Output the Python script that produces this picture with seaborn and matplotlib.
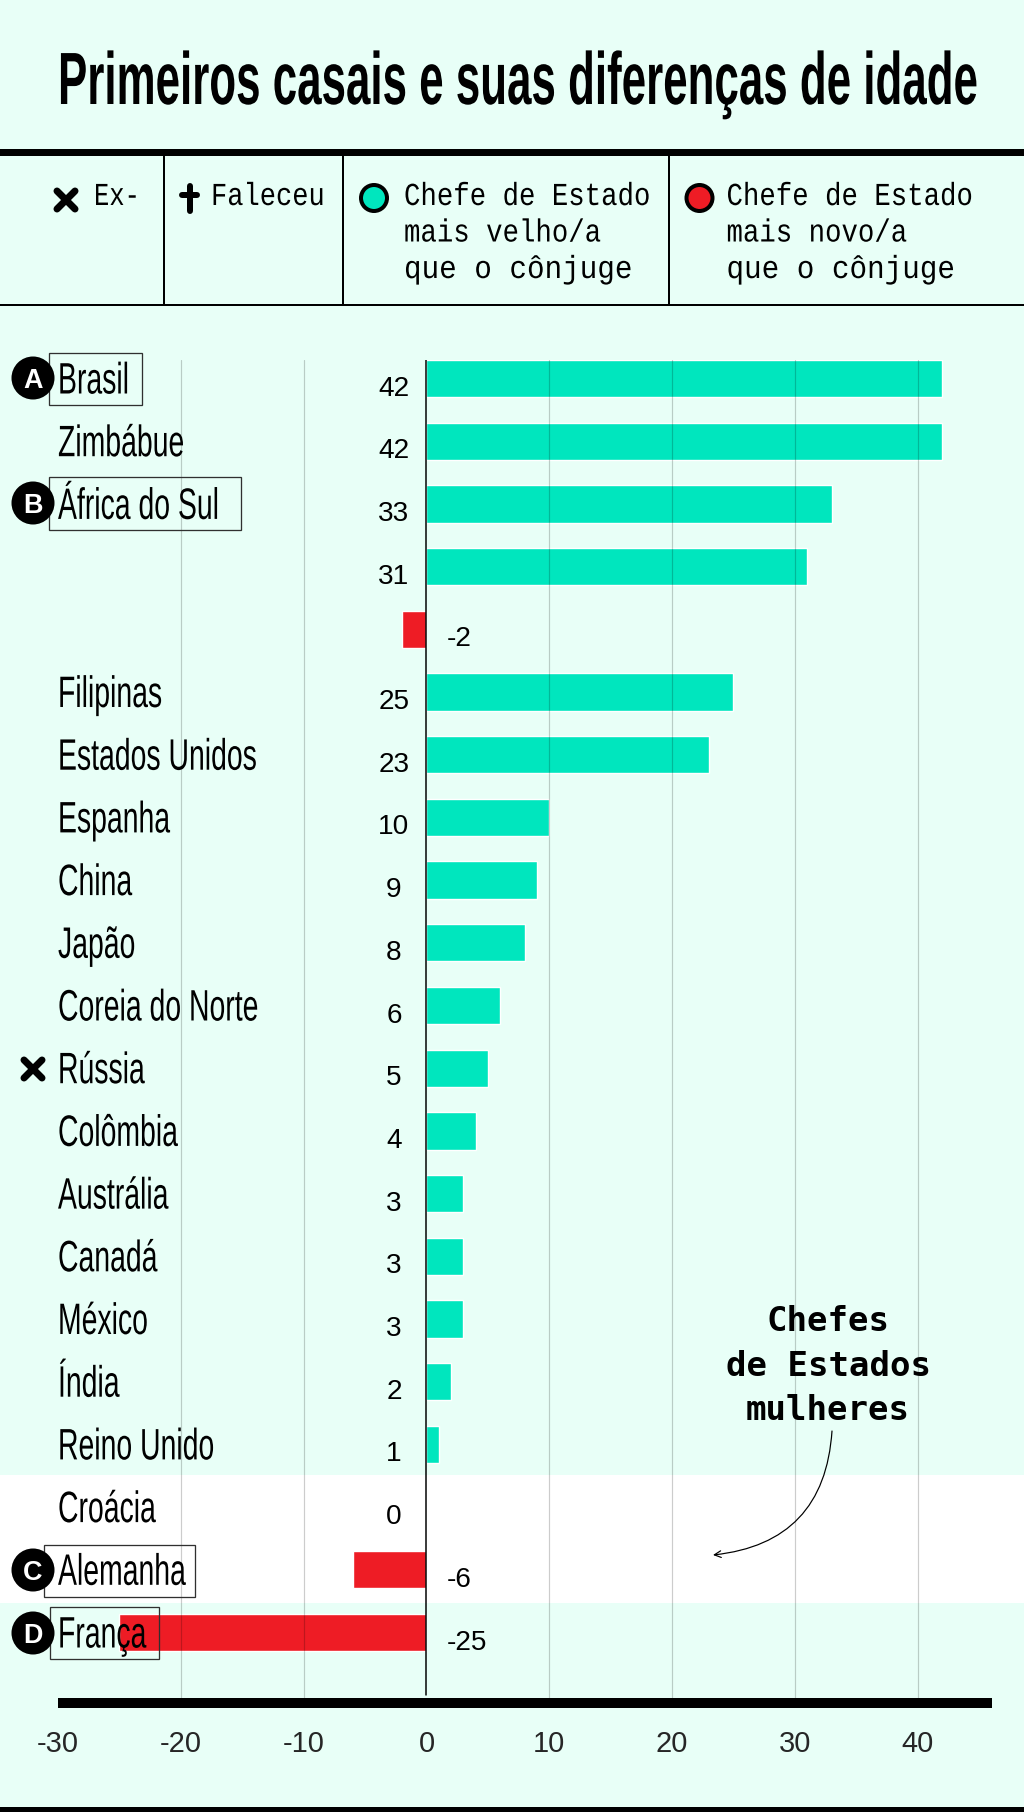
import numpy as np
import pandas as pd
import matplotlib
matplotlib.use("Agg")
import matplotlib.pyplot as plt
import seaborn as sns
from matplotlib.patches import Rectangle, Circle
from matplotlib.patheffects import AbstractPathEffect
from matplotlib.transforms import Affine2D, Bbox, offset_copy

title = "Primeiros casais e suas diferenças de idade"
countries = ["Brasil", "Zimbábue", "África do Sul", "", "", "Filipinas", "Estados Unidos",
             "Espanha", "China", "Japão", "Coreia do Norte", "Rússia", "Colômbia", "Austrália",
             "Canadá", "México", "Índia", "Reino Unido", "Croácia", "Alemanha", "França"]
age_gaps = [42, 42, 33, 31, -2, 25, 23, 10, 9, 8, 6, 5, 4, 3, 3, 3, 2, 1, 0, -6, -25]
x_ticks = [-30, -20, -10, 0, 10, 20, 30, 40]
grid_ticks = [-20, -10, 10, 20, 30, 40]
badge_letters = ["A", "B", "C", "D"]

BG = "#E8FFF7"
TEAL = "#00E6BE"
RED = "#EE1C25"
W, H = 1024, 1812

sns.set_theme(style="white")
plt.rcParams["font.family"] = ["Liberation Sans Narrow", "Liberation Sans", "DejaVu Sans"]

df = pd.DataFrame({"pos": np.arange(len(age_gaps)), "gap": age_gaps})
df["side"] = np.where(df["gap"] >= 0, "older", "younger")


class Squeeze(AbstractPathEffect):
    """Rescales the glyphs of a left-aligned text around its own origin."""
    def __init__(self, sx, sy=1.0):
        super().__init__()
        self.sx = sx
        self.sy = sy

    def draw_path(self, renderer, gc, tpath, affine, rgbFace=None):
        renderer.draw_path(gc, tpath, Affine2D().scale(self.sx, self.sy) + affine, rgbFace)


def px(p):
    return p * 0.72


fig = plt.figure(figsize=(W / 100, H / 100), dpi=100, facecolor=BG)
bg = fig.add_axes([0, 0, 1, 1], zorder=0)
top = fig.add_axes([0, 0, 1, 1], zorder=2)
for a in (bg, top):
    a.set_xlim(0, W)
    a.set_ylim(H, 0)
    a.axis("off")
    a.patch.set_alpha(0)

# main axes: data x -30 at 58 px, 46.05 at 992 px; row i centre at 378.5 + 62.7 i
x0, x1, y_top, y_bot = 58, 992, 360, 1703
ax = fig.add_axes([x0 / W, 1 - y_bot / H, (x1 - x0) / W, (y_bot - y_top) / H], zorder=1)
ax.patch.set_alpha(0)
sns.barplot(data=df, x="gap", y="pos", hue="side", palette={"older": TEAL, "younger": RED},
            orient="h", native_scale=True, width=0.595, dodge=False, legend=False, ax=ax,
            saturation=1, zorder=2)
ax.set_xlim(-30, 46.05)
ax.set_ylim((y_bot - 378.5) / 62.7, (y_top - 378.5) / 62.7)
ax.set_xlabel("")
ax.set_ylabel("")
ax.set_yticks([])
ax.set_xticks(x_ticks)
ax.set_xticklabels([str(t) for t in x_ticks], family="Liberation Sans", fontsize=px(29))
ax.tick_params(axis="x", length=0, pad=px(27))
for s in ("top", "left", "right"):
    ax.spines[s].set_visible(False)
ax.spines["bottom"].set_linewidth(px(10))
ax.spines["bottom"].set_color("black")
ax.spines["bottom"].set_capstyle("butt")
for g in grid_ticks:
    ax.axvline(g, color="black", alpha=0.2, lw=px(1.2), zorder=3)
ax.plot([0, 0], [(y_top - 378.5) / 62.7, (1695 - 378.5) / 62.7], color="black", lw=px(1.5), zorder=4)

# white band behind the women heads of state
bg.add_patch(Rectangle((0, 1475.3), W, 128, color="white", lw=0))

renderer = fig.canvas.get_renderer()


def natural_width(axis, s, **kw):
    probe = axis.text(0, 0, s, **kw)
    w = probe.get_window_extent(renderer).width
    probe.remove()
    return w


def fitted(axis, x, y, s, width=None, ref=None, transform=None, **kw):
    """Left-aligned text narrowed so that `ref` (or s) would take `width` pixels."""
    t = axis.text(x, y, s, ha="left", va="baseline", transform=transform or axis.transData, **kw)
    if width:
        t.set_path_effects([Squeeze(width / natural_width(axis, ref or s, **kw))])
    return t


# country and value labels
name_tf = offset_copy(ax.transData, fig, x=0, y=-15, units="dots")
val_tf = offset_copy(ax.transData, fig, x=0, y=-17, units="dots")
for i, (name, gap) in enumerate(zip(countries, age_gaps)):
    if name:
        fitted(ax, -30, i, name, width=199, ref="Estados Unidos", transform=name_tf,
               fontsize=px(44), color="black", zorder=6)
    if gap >= 0:
        ax.text(-2.65, i, str(gap), ha="center", va="baseline", transform=val_tf,
                family="Liberation Sans", fontsize=px(28), color="black", zorder=6)
    else:
        ax.text(1.67, i, str(gap), ha="left", va="baseline", transform=val_tf,
                family="Liberation Sans", fontsize=px(28), color="black", zorder=6)

# title: set at the size that fits the width, then stretched to the reference height
title_kw = dict(fontweight="bold", color="black")
title_w74 = natural_width(top, title, fontsize=px(74), **title_kw)
title_t = top.text(58, 104, title, ha="left", va="baseline", fontsize=px(74 * 919 / title_w74), **title_kw)
title_t.set_path_effects([Squeeze(1.0, title_w74 / 919)])

# header rules
for (xa, ya, wa, ha_) in [(0, 149, W, 7), (0, 304, W, 2), (163, 156, 2, 148), (342, 156, 2, 148),
                          (668, 156, 2, 148), (0, 1807, W, 5)]:
    top.add_patch(Rectangle((xa, ya), wa, ha_, color="black", lw=0))

# legend
mono = dict(family="Liberation Mono", fontsize=px(32), color="black")
fitted(top, 94, 205, "Ex-", width=46, **mono)
fitted(top, 211, 205, "Faleceu", width=114, **mono)
for x, cx, color, lines in [(404, 374, TEAL, ["Chefe de Estado", "mais velho/a", "que o cônjuge"]),
                            (726.5, 699.5, RED, ["Chefe de Estado", "mais novo/a", "que o cônjuge"])]:
    fitted(top, x, 205, lines[0], width=247, **mono)
    fitted(top, x, 241.5, lines[1], width=247, ref=lines[0], **mono)
    fitted(top, x, 278, lines[2], width=229, **mono)
    top.add_patch(Circle((cx, 198), 13, facecolor=color, edgecolor="black", lw=px(4)))


def cross(cx, cy, h=9):
    for sgn in (1, -1):
        top.plot([cx - h, cx + h], [cy - sgn * h, cy + sgn * h], color="black", lw=px(7),
                 solid_capstyle="round", zorder=7)


cross(66, 200)
cross(33, 1069)
top.plot([189.5, 189.5], [186, 211], color="black", lw=px(6), solid_capstyle="round")
top.plot([182, 197], [195, 195], color="black", lw=px(6), solid_capstyle="round")

# badges and boxes
for (bx, by, bw, bh) in [(49.3, 352.7, 92.4, 52.3), (49.3, 477.3, 191.4, 52.7),
                         (43.8, 1544.7, 151.5, 52.3), (49.6, 1606.7, 109.8, 52.3)]:
    top.add_patch(Rectangle((bx, by), bw, bh, fill=False, edgecolor="#303030", lw=px(1.3)))
for cy, letter in zip([378, 503, 1570, 1633], badge_letters):
    top.add_patch(Circle((33, cy), 21.5, color="black", lw=0, zorder=5))
    top.text(33, cy, letter, ha="center", va="center_baseline", color="white", zorder=6,
             family="Liberation Sans", fontweight="bold", fontsize=px(27))

# annotation
top.text(828, 1420, "Chefes\nde Estados\nmulheres", ha="center", va="baseline", linespacing=1.44,
         family="DejaVu Sans Mono", fontweight="bold", fontsize=px(34), color="black",
         multialignment="center")
top.annotate("", xy=(713, 1555), xytext=(832, 1431),
             arrowprops=dict(arrowstyle="->", color="black", lw=px(1.2), shrinkA=0, shrinkB=0,
                             connectionstyle="arc3,rad=-0.42", mutation_scale=12))

fig.savefig("out.png", dpi=100, facecolor=BG)
